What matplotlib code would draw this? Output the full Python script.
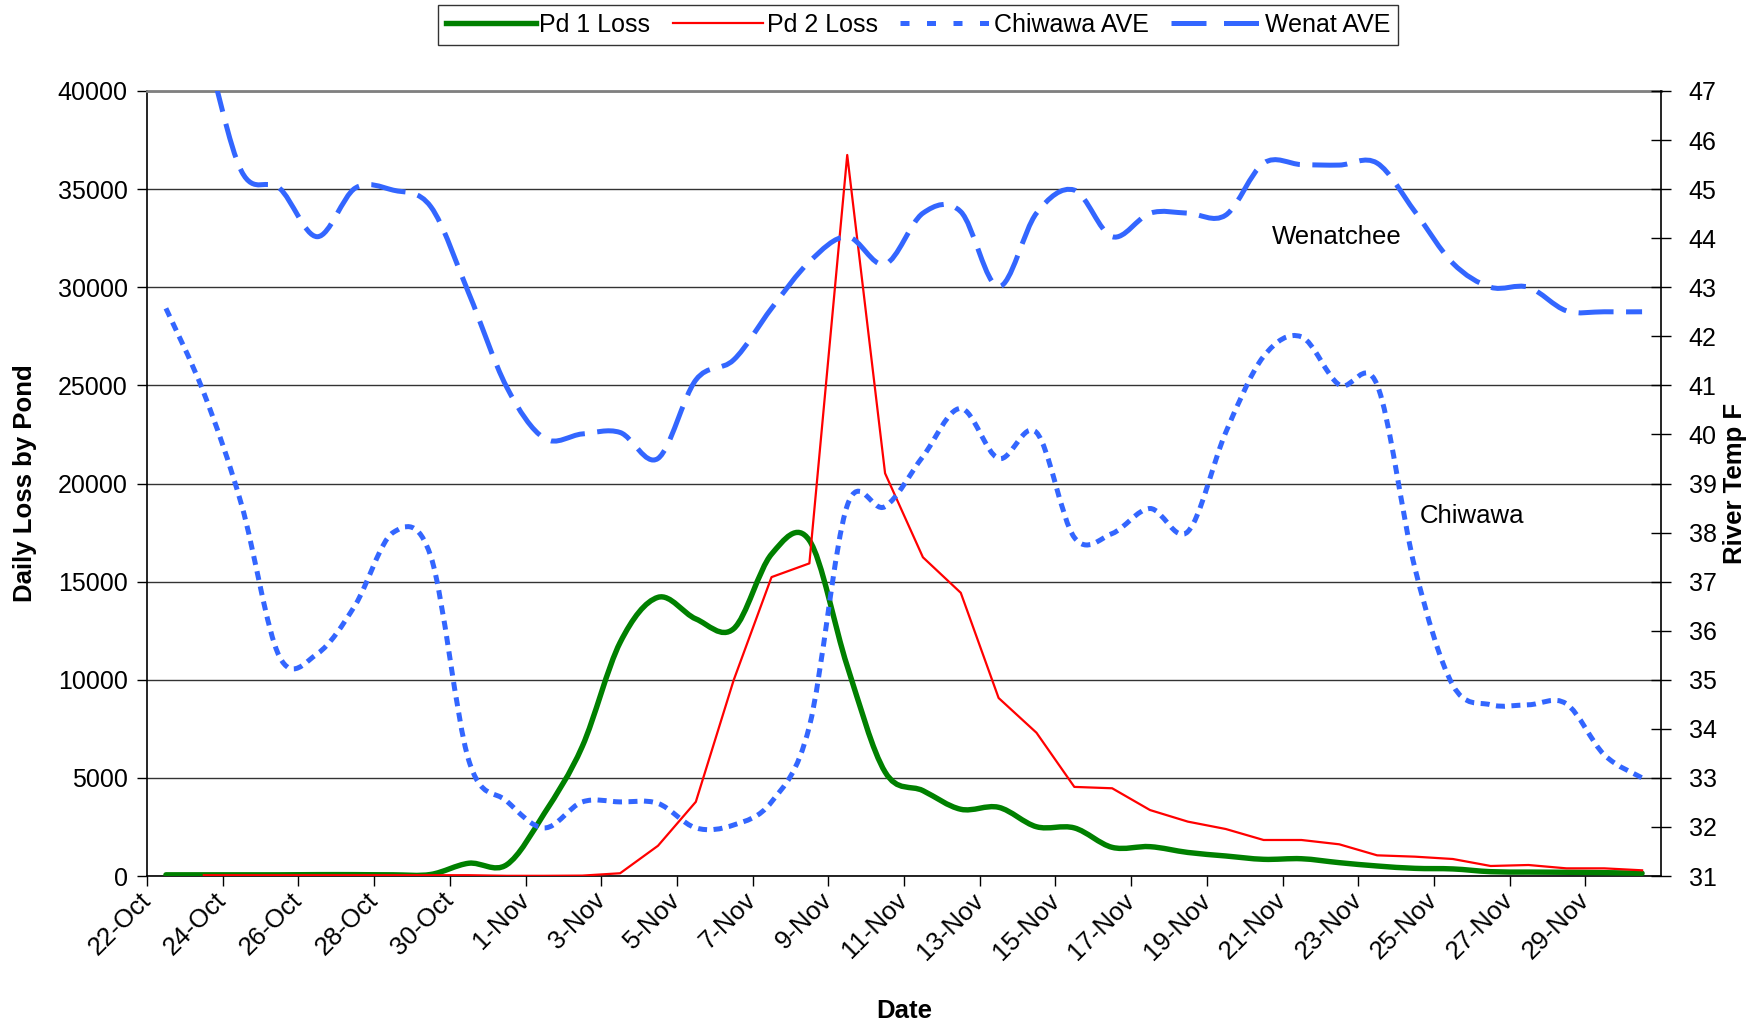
import numpy as np
import matplotlib
matplotlib.use("Agg")
import matplotlib.pyplot as plt
from matplotlib.path import Path
from matplotlib.patches import PathPatch
from matplotlib.lines import Line2D

plt.rcParams['font.family'] = ['Liberation Sans', 'DejaVu Sans']

# ---------------- data ----------------
dates = ['22-Oct', '23-Oct', '24-Oct', '25-Oct', '26-Oct', '27-Oct', '28-Oct', '29-Oct',
         '30-Oct', '31-Oct', '1-Nov', '2-Nov', '3-Nov', '4-Nov', '5-Nov', '6-Nov',
         '7-Nov', '8-Nov', '9-Nov', '10-Nov', '11-Nov', '12-Nov', '13-Nov', '14-Nov',
         '15-Nov', '16-Nov', '17-Nov', '18-Nov', '19-Nov', '20-Nov', '21-Nov', '22-Nov',
         '23-Nov', '24-Nov', '25-Nov', '26-Nov', '27-Nov', '28-Nov', '29-Nov', '30-Nov']

pd1_loss = [60, 60, 60, 60, 70, 70, 60, 80, 650, 570,
            3200, 6600, 11900, 14200, 13100, 12600, 16400, 17100, 10700, 5300,
            4350, 3400, 3500, 2510, 2450, 1460, 1495, 1200, 1020, 850,
            880, 680, 510, 390, 360, 220, 200, 190, 170, 140]

pd2_loss = [np.nan, 40, 40, 40, 40, 40, 40, 40, 40, 10,
            10, 20, 140, 1540, 3780, 9980, 15230, 15930, 36740, 20520,
            16240, 14430, 9070, 7300, 4540, 4470, 3360, 2770, 2395, 1835,
            1835, 1615, 1053, 985, 866, 510, 560, 390, 390, 290]

chiwawa_ave = [42.57, 40.85, 38.56, 35.47, 35.53, 36.52, 38.00, 37.51, 33.36, 32.53,
               31.98, 32.51, 32.51, 32.48, 31.98, 32.04, 32.51, 34.05, 38.55, 38.53,
               39.55, 40.53, 39.51, 40.04, 37.90, 37.98, 38.49, 38.02, 40.04, 41.59,
               41.99, 41.01, 41.01, 37.27, 34.89, 34.49, 34.49, 34.51, 33.47, 33.00]

wenat_ave = [50.00, 48.00, 45.36, 45.02, 44.03, 45.02, 44.98, 44.64, 42.88, 40.97,
             39.92, 40.01, 40.04, 39.51, 41.11, 41.52, 42.57, 43.52, 44.03, 43.47,
             44.51, 44.54, 43.01, 44.51, 44.98, 44.03, 44.51, 44.51, 44.47, 45.53,
             45.50, 45.49, 45.53, 44.54, 43.49, 43.00, 43.00, 42.52, 42.50, 42.50]

left_ticks = [0, 5000, 10000, 15000, 20000, 25000, 30000, 35000, 40000]
right_ticks = list(range(31, 48))

GREEN = '#008000'
RED = '#FF0000'
BLUE = '#3366FF'
FS = 18


def smooth_path(x, y):
    """Excel-style smoothed line: cubic Bezier segments through the points."""
    pts = np.column_stack([np.asarray(x, float), np.asarray(y, float)])
    n = len(pts)
    verts = [pts[0]]
    codes = [Path.MOVETO]
    for i in range(n - 1):
        p0 = pts[i - 1] if i > 0 else pts[i]
        p1 = pts[i]
        p2 = pts[i + 1]
        p3 = pts[i + 2] if i + 2 < n else pts[i + 1]
        c1 = p1 + (p2 - p0) / 6.0
        c2 = p2 - (p3 - p1) / 6.0
        verts += [c1, c2, p2]
        codes += [Path.CURVE4] * 3
    return Path(verts, codes)


x = np.arange(len(dates)) + 0.5

fig = plt.figure(figsize=(17.63, 10.28), dpi=100)
ax = fig.add_axes([147 / 1763, 1 - 876 / 1028, (1661 - 147) / 1763, (876 - 91) / 1028])
ax2 = ax.twinx()

ax.set_xlim(0, 40)
ax.set_ylim(0, 40000)
ax2.set_ylim(31, 47)

# grid
ax.set_yticks(left_ticks)
ax.set_yticklabels([str(v) for v in left_ticks])
ax.yaxis.grid(True, color='#333333', linewidth=1.0)
ax.set_axisbelow(True)

# primary series
ax.add_patch(PathPatch(smooth_path(x, pd1_loss), fill=False, edgecolor=GREEN,
                       linewidth=3.9, capstyle='round', joinstyle='round', zorder=3))
ax.plot(x, pd2_loss, color=RED, linewidth=1.6, zorder=4)

# secondary series
ax2.add_patch(PathPatch(smooth_path(x, chiwawa_ave), fill=False, edgecolor=BLUE,
                        linewidth=3.6, linestyle=(0, (1.8, 1.3)), capstyle='butt',
                        joinstyle='round', zorder=3))
ax2.add_patch(PathPatch(smooth_path(x, wenat_ave), fill=False, edgecolor=BLUE,
                        linewidth=3.6, linestyle=(0, (7, 2.5)), capstyle='butt',
                        joinstyle='round', zorder=3))

ax2.text(31.43, 44.02, 'Wenatchee', ha='center', va='center', fontsize=FS + 0.5)
ax2.text(35.0, 38.34, 'Chiwawa', ha='center', va='center', fontsize=FS + 0.5)

# x axis
ax.set_xticks(np.arange(0, 40, 2))
ax.set_xticklabels(dates[0::2], rotation=45, ha='right', va='center',
                   rotation_mode='anchor', fontsize=FS + 0.5)
ax.tick_params(axis='x', direction='out', length=7, width=1, pad=8)
ax.tick_params(axis='y', direction='out', length=7, width=1, labelsize=FS, pad=7)

ax2.set_yticks(right_ticks)
ax2.set_yticklabels([str(v) for v in right_ticks])
ax2.tick_params(axis='y', direction='inout', length=14, width=1, labelsize=FS, pad=13)

for sp in ['left', 'bottom']:
    ax.spines[sp].set_color('black')
    ax.spines[sp].set_linewidth(1.2)
ax.spines['top'].set_color('#808080')
ax.spines['top'].set_linewidth(2.0)
ax.spines['right'].set_visible(False)
ax2.spines['top'].set_visible(False)
ax2.spines['left'].set_visible(False)
ax2.spines['bottom'].set_visible(False)
ax2.spines['right'].set_color('black')
ax2.spines['right'].set_linewidth(1.2)

fig.text(25 / 1763, 1 - 483.5 / 1028, 'Daily Loss by Pond', rotation=90,
         ha='center', va='center', fontsize=FS + 0.5, fontweight='bold')
fig.text(1735 / 1763, 1 - 483.5 / 1028, 'River Temp F', rotation=90,
         ha='center', va='center', fontsize=FS + 0.5, fontweight='bold')
fig.text(904 / 1763, 1 - 1011 / 1028, 'Date', ha='center', va='center',
         fontsize=FS + 0.5, fontweight='bold')

handles = [
    Line2D([], [], color=GREEN, linewidth=3.9),
    Line2D([], [], color=RED, linewidth=1.6),
    Line2D([], [], color=BLUE, linewidth=3.6, linestyle=(0, (1.8, 3.5)), dash_capstyle='butt'),
    Line2D([], [], color=BLUE, linewidth=3.6, linestyle=(0, (7, 3.5)), dash_capstyle='butt'),
]
labels = ['Pd 1 Loss', 'Pd 2 Loss', 'Chiwawa AVE', 'Wenat AVE']
leg = fig.legend(handles, labels, loc='upper center',
                 bbox_to_anchor=(918 / 1763, 1 - 5 / 1028), ncol=4, frameon=True,
                 fancybox=False, edgecolor='black', fontsize=FS, handlelength=3.6,
                 handletextpad=0.15, columnspacing=0.9, borderpad=0.32,
                 borderaxespad=0.0)
leg.get_frame().set_linewidth(1.0)

fig.savefig('out.png', dpi=100)
